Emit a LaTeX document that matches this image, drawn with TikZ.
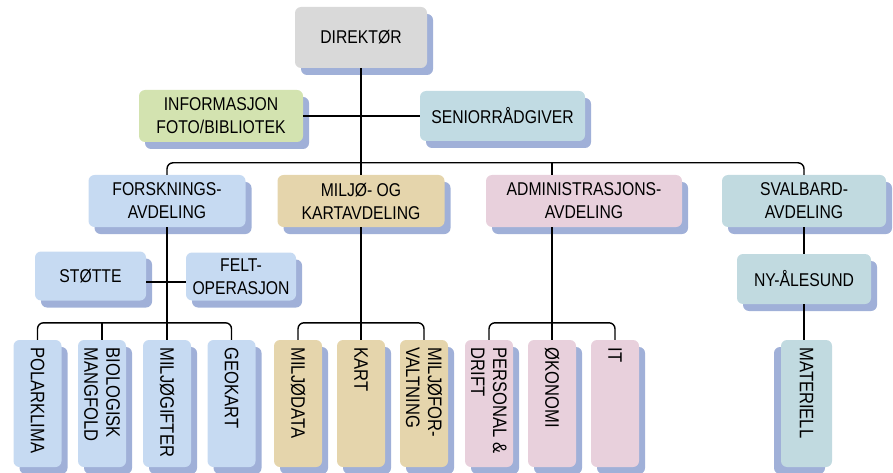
\documentclass[tikz,border=0pt]{standalone}
\usepackage{fontspec}
\setmainfont{Liberation Sans}[FakeStretch=0.85]
\usetikzlibrary{shadows}

\definecolor{shadowblue}{RGB}{160,176,216}
\definecolor{dirgrey}{RGB}{217,217,217}
\definecolor{infogreen}{RGB}{211,227,176}
\definecolor{seniorblue}{RGB}{193,219,227}
\definecolor{forskblue}{RGB}{198,218,242}
\definecolor{miljotan}{RGB}{229,213,172}
\definecolor{adminpink}{RGB}{232,208,220}
\definecolor{svalbardblue}{RGB}{193,218,224}

\tikzset{
	unit/.style={rounded corners=6pt, align=center, inner sep=0pt, font=\fontsize{18.5}{23}\selectfont},
	shadowright/.style={drop shadow={shadow xshift=6pt, shadow yshift=-7pt, fill=shadowblue, opacity=1}},
	shadowleft/.style={drop shadow={shadow xshift=-7pt, shadow yshift=-7pt, fill=shadowblue, opacity=1}},
	topbox/.style={unit, shadowright, minimum width=#1, minimum height=52pt},
	leafbox/.style={unit, minimum width=48pt, minimum height=127pt, font=\fontsize{19.5}{22}\selectfont},
	bus/.style={line width=1.4pt, rounded corners=6pt},
	trunk/.style={line width=2pt}
}

\newcommand{\leaftext}[1]{\rotatebox{-90}{\parbox{112pt}{\raggedright #1}}}

\begin{document}
\begin{tikzpicture}[x=1pt, y=-1pt]

		\useasboundingbox (0,0) rectangle (893,473);

		\pgfmathsetmacro{\leafy}{403.5}
		\pgfmathsetmacro{\busup}{-17}

		% head and staff
		\node[unit, shadowright, fill=dirgrey, minimum width=132pt, minimum height=61pt] (dir) at (361,37.5) {DIREKTØR};
		\node[unit, shadowright, fill=infogreen, minimum width=164pt, minimum height=52pt] (info) at (221,116) {INFORMASJON\\FOTO/BIBLIOTEK};
		\node[unit, shadowright, fill=seniorblue, minimum width=165pt, minimum height=50pt] (senior) at (502.5,116) {SENIORRÅDGIVER};

		% departments
		\node[topbox=157pt, fill=forskblue] (forsk) at (167,201) {FORSKNINGS-\\AVDELING};
		\node[topbox=167pt, fill=miljotan] (miljo) at (361,201) {MILJØ- OG\\KARTAVDELING};
		\node[topbox=196pt, fill=adminpink] (admin) at (584,201) {ADMINISTRASJONS-\\AVDELING};
		\node[topbox=164pt, fill=svalbardblue] (svalbard) at (804,201) {SVALBARD-\\AVDELING};

		% middle level
		\node[unit, shadowright, fill=forskblue, minimum width=111pt, minimum height=49pt] (stotte) at (90.5,276) {STØTTE};
		\node[unit, shadowright, fill=forskblue, minimum width=110pt, minimum height=48pt] (felt) at (241,276.5) {FELT-\\OPERASJON};
		\node[unit, shadowright, fill=svalbardblue, minimum width=134pt, minimum height=50pt] (nyalesund) at (804,279) {NY-ÅLESUND};

		% leaves
		\node[leafbox, shadowright, fill=forskblue] (polar) at (37.5,\leafy) {\leaftext{POLARKLIMA}};
		\node[leafbox, shadowright, fill=forskblue] (bio) at (102,\leafy) {\leaftext{BIOLOGISK\\MANGFOLD}};
		\node[leafbox, shadowright, fill=forskblue] (gift) at (167,\leafy) {\leaftext{MILJØGIFTER}};
		\node[leafbox, shadowright, fill=forskblue] (geo) at (231.5,\leafy) {\leaftext{GEOKART}};

		\node[leafbox, shadowright, fill=miljotan] (mdata) at (298,\leafy) {\leaftext{MILJØDATA}};
		\node[leafbox, shadowright, fill=miljotan] (kart) at (361,\leafy) {\leaftext{KART}};
		\node[leafbox, shadowright, fill=miljotan] (mforv) at (424,\leafy) {\leaftext{MILJØFOR-\\VALTNING}};

		\node[leafbox, shadowright, fill=adminpink] (pers) at (489,\leafy) {\leaftext{PERSONAL \&\\DRIFT}};
		\node[leafbox, shadowright, fill=adminpink] (oko) at (552,\leafy) {\leaftext{ØKONOMI}};
		\node[leafbox, shadowright, fill=adminpink] (it) at (615,\leafy) {\leaftext{IT}};

		\node[leafbox, shadowleft, fill=svalbardblue, minimum width=51pt] (materiell) at (806.5,\leafy) {\leaftext{MATERIELL}};

		% draw head connectors
		\draw[trunk] (dir.south) -- (miljo.north);
		\draw[bus] (info.east) -- (senior.west);
		\draw[bus] (forsk.north) -- ++(0,-12) -| (svalbard.north);
		\draw[bus] (admin.north -| oko.north) -- ++(0,-12);

		% draw forskning connectors
		\draw[trunk] (forsk.south) -- (gift.north);
		\draw[bus] ([yshift=-6pt]stotte.east) -- ([yshift=-6pt]stotte.east -| felt.west);
		\draw[bus] (polar.north) -- ++(0,\busup) -| (geo.north);
		\draw[bus] (bio.north) -- ++(0,\busup);

		% draw miljo connectors
		\draw[trunk] (miljo.south) -- (kart.north);
		\draw[bus] (mdata.north) -- ++(0,\busup) -| (mforv.north);

		% draw admin connectors
		\draw[trunk] (admin.south -| oko.north) -- (oko.north);
		\draw[bus] (pers.north) -- ++(0,\busup) -| (it.north);

		% draw svalbard connectors
		\draw[trunk] (svalbard.south) -- (nyalesund.north);
		\draw[trunk] (nyalesund.south) -- (nyalesund.south |- materiell.north);

	\end{tikzpicture}
\end{document}
